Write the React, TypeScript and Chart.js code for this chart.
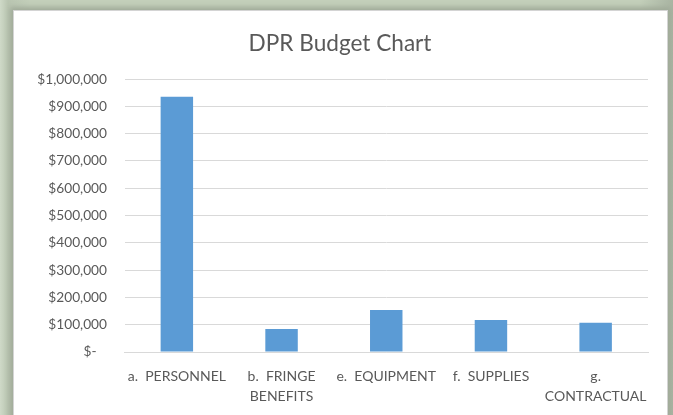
import React, { useEffect, useRef } from "react";
import { Chart, registerables } from "chart.js";

Chart.register(...registerables);

const categories: (string | string[])[] = [
  "a.  PERSONNEL",
  ["b.  FRINGE", "BENEFITS"],
  "e.  EQUIPMENT",
  "f.  SUPPLIES",
  ["g.", "CONTRACTUAL"],
];
const budgetValues: number[] = [935000, 84000, 154000, 117000, 107000];
const yTickMax = 1000000;
const yTickStep = 100000;
const chartTitle = "DPR Budget Chart";

const FONT = "Lato, 'Open Sans', sans-serif";

function formatDollar(v: number): string {
  if (v === 0) return "$-   ";
  return "$" + v.toLocaleString("en-US");
}

export default function App() {
  const ref = useRef<HTMLCanvasElement | null>(null);

  useEffect(() => {
    if (!ref.current) return;
    const chart = new Chart(ref.current, {
      type: "bar",
      data: {
        labels: categories,
        datasets: [
          {
            data: budgetValues,
            backgroundColor: "#5b9bd5",
            borderWidth: 0,
            barPercentage: 0.31,
            categoryPercentage: 1,
          },
        ],
      },
      options: {
        responsive: false,
        animation: false,
        layout: { padding: { left: 18, right: 19, top: 19, bottom: 10 } },
        plugins: {
          legend: { display: false },
          tooltip: { enabled: false },
          title: {
            display: true,
            text: chartTitle,
            color: "#595959",
            font: { family: FONT, size: 22.6, weight: "normal" },
            padding: { top: 0, bottom: 22 },
          },
        },
        scales: {
          x: {
            grid: { display: false, drawTicks: false },
            border: { display: true, color: "#d9d9d9" },
            ticks: {
              color: "#595959",
              font: { family: FONT, size: 14, lineHeight: 1.43 },
              maxRotation: 0,
              autoSkip: false,
              padding: 14,
            },
            afterFit: (s: any) => {
              s.height = 54;
            },
          },
          y: {
            min: 0,
            max: yTickMax,
            grid: { color: "#d9d9d9", drawTicks: false },
            border: { display: false },
            ticks: {
              stepSize: yTickStep,
              color: "#595959",
              font: { family: FONT, size: 13.7 },
              padding: 17.5,
              callback: (v: any) => formatDollar(Number(v)),
            },
            afterFit: (s: any) => {
              s.width = 92.5;
            },
          },
        },
      },
    });
    return () => chart.destroy();
  }, []);

  return (
    <div
      style={{
        position: "fixed",
        left: 0,
        top: 0,
        width: 673,
        height: 415,
        overflow: "hidden",
        background: "linear-gradient(90deg, #cfdac8 0px, #b9c5b1 8px, #c3cfba 30px, #c3cfba 640px, #a9b4a2 673px)",
      }}
    >
      <div
        style={{
          position: "absolute",
          left: 13,
          top: 10,
          width: 653,
          height: 420,
          background: "#ffffff",
          border: "1px solid #d4d4d4",
          boxShadow: "0 0 5px 3px #a0ab99",
        }}
      >
        <canvas ref={ref} width={653} height={405} style={{ display: "block" }} />
      </div>
    </div>
  );
}
